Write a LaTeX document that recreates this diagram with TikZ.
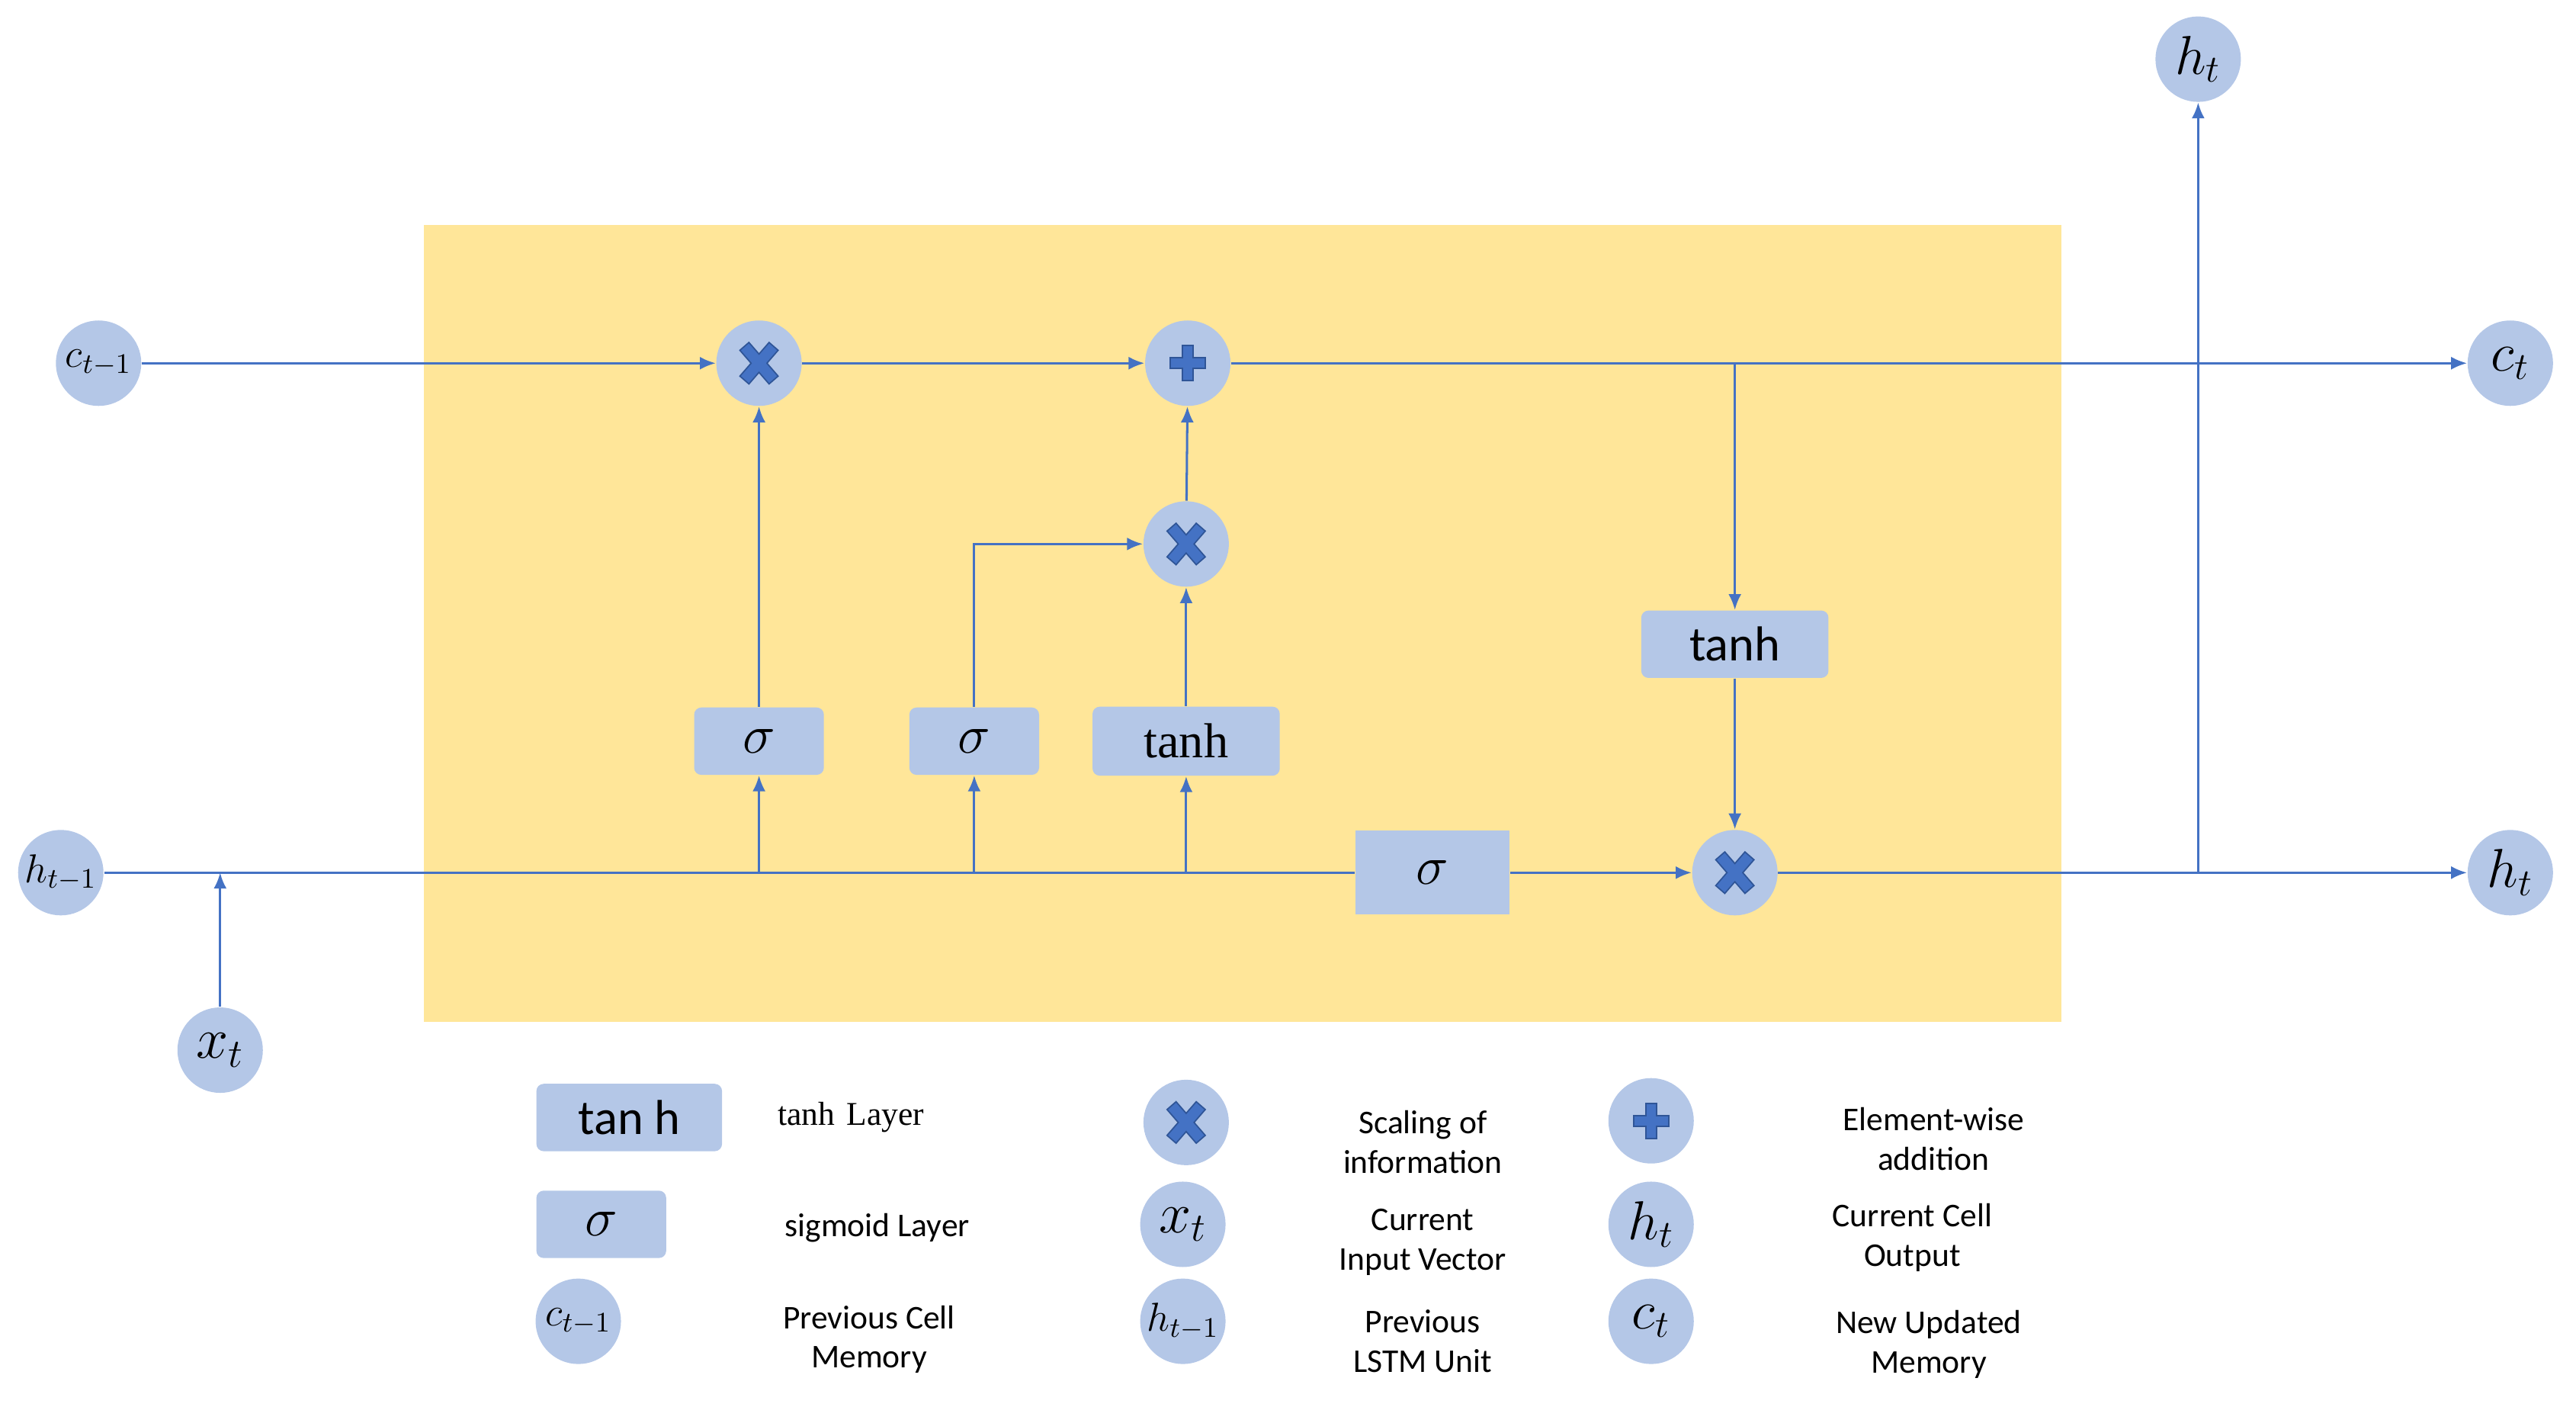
\RequirePackage{fix-cm}
\documentclass[tikz,border=0pt]{standalone}
\usepackage{fontspec}
\usetikzlibrary{arrows.meta}
\newfontfamily\calib{Carlito}
\newfontfamily\timesf{Liberation Serif}
\definecolor{cellyellow}{HTML}{FFE699}
\definecolor{nodeblue}{HTML}{B4C7E7}
\definecolor{lineblue}{HTML}{4472C4}
\definecolor{crossblue}{HTML}{4472C4}
\definecolor{crossdark}{HTML}{2F5597}
\tikzset{
  arr/.style={draw=lineblue, line width=0.8pt, -{Latex[length=5.5pt,width=4.5pt]}},
  ln/.style={draw=lineblue, line width=0.8pt},
  circ/.style={circle, fill=nodeblue, minimum size=1.04cm, inner sep=0pt},
  layerbox/.style={rectangle, rounded corners=2.5pt, fill=nodeblue, inner sep=0pt},
  bigm/.style={font=\fontsize{19}{22}\selectfont},
  smallm/.style={font=\fontsize{14}{16}\selectfont},
  legtxt/.style={font=\calib\fontsize{11.5}{13.7}\selectfont, align=center, inner sep=0pt},
  multop/.style={circ, path picture={
    \draw[crossdark, line width=4.6pt, line cap=rect]
      ([shift={(-0.13cm,-0.15cm)}]path picture bounding box.center) -- ([shift={(0.13cm,0.15cm)}]path picture bounding box.center)
      ([shift={(-0.13cm,0.15cm)}]path picture bounding box.center) -- ([shift={(0.13cm,-0.15cm)}]path picture bounding box.center);
    \draw[crossblue, line width=3.6pt, line cap=rect]
      ([shift={(-0.13cm,-0.15cm)}]path picture bounding box.center) -- ([shift={(0.13cm,0.15cm)}]path picture bounding box.center)
      ([shift={(-0.13cm,0.15cm)}]path picture bounding box.center) -- ([shift={(0.13cm,-0.15cm)}]path picture bounding box.center);
  }},
  plusop/.style={circ, path picture={
    \draw[crossdark, line width=4.2pt, line cap=rect]
      ([shift={(-0.15cm,0cm)}]path picture bounding box.center) -- ([shift={(0.15cm,0cm)}]path picture bounding box.center)
      ([shift={(0cm,-0.15cm)}]path picture bounding box.center) -- ([shift={(0cm,0.15cm)}]path picture bounding box.center);
    \draw[crossblue, line width=3.2pt, line cap=rect]
      ([shift={(-0.15cm,0cm)}]path picture bounding box.center) -- ([shift={(0.15cm,0cm)}]path picture bounding box.center)
      ([shift={(0cm,-0.15cm)}]path picture bounding box.center) -- ([shift={(0cm,0.15cm)}]path picture bounding box.center);
  }},
}
\begin{document}
\begin{tikzpicture}[x=0.02cm,y=-0.02cm]
\useasboundingbox (0,0) rectangle (1568,856);
% cell background
\node[fill=cellyellow, minimum width=19.94cm, minimum height=9.7cm, inner sep=0pt] (cell) at (756.5,379.5) {};

% main nodes
\node[circ, smallm] (cprev) at (60,221) {$c_{t-1}$};
\node[circ, smallm] (hprev) at (37,531) {$h_{t-1}$};
\node[circ, font=\fontsize{20}{22}\selectfont] (xt) at (134,639) {$x_t$};
\node[multop] (m1) at (462,221) {};
\node[plusop] (plus) at (723,221) {};
\node[multop] (m2) at (722,331) {};
\node[layerbox, minimum width=1.58cm, minimum height=0.82cm, bigm] (s1) at (462,451) {$\sigma$};
\node[layerbox, minimum width=1.58cm, minimum height=0.82cm, bigm] (s2) at (593,451) {$\sigma$};
\node[layerbox, minimum width=2.28cm, minimum height=0.84cm, font=\timesf\fontsize{17}{20}\selectfont] (th1) at (722,451) {tanh};
\node[rectangle, fill=nodeblue, inner sep=0pt, minimum width=1.88cm, minimum height=1.02cm, bigm] (s3) at (872,531) {$\sigma$};
\node[layerbox, minimum width=2.28cm, minimum height=0.82cm, font=\calib\fontsize{17}{20}\selectfont] (th2) at (1056,392) {tanh};
\node[multop] (m3) at (1056,531) {};
\node[circ, bigm] (htop) at (1338,36) {$h_t$};
\node[circ, bigm] (cnext) at (1528,221) {$c_t$};
\node[circ, bigm] (hnext) at (1528,531) {$h_t$};

% connectors
\draw[arr] (cprev) -- (m1);
\draw[arr] (m1) -- (plus);
\draw[arr] (plus) -- (cnext);
\draw[arr] (th2.north |- plus.center) -- (th2);
\draw[arr] (s1) -- (m1);
\draw[ln] (hprev) -- (s3);
\draw[arr] (s3) -- (m3);
\draw[arr] (m3) -- (hnext);
\draw[arr] (xt) -- (xt |- hprev.center);
\draw[arr] (s1 |- hprev.center) -- (s1);
\draw[arr] (s2 |- hprev.center) -- (s2);
\draw[arr] (th1 |- hprev.center) -- (th1);
\draw[arr] (s2.north) |- (m2);
\draw[arr] (th1) -- (m2);
\draw[arr] (m2) -- (plus);
\draw[arr] (th2) -- (m3);
\draw[arr] (htop |- hnext.center) -- (htop);

% legend
\node[layerbox, minimum width=2.26cm, minimum height=0.82cm, font=\calib\fontsize{17}{20}\selectfont] (lgtanh) at (383,680) {tan h};
\node[layerbox, minimum width=1.58cm, minimum height=0.82cm, bigm] (lgsig) at (366,745) {$\sigma$};
\node[circ, smallm] (lgc) at (352,804) {$c_{t-1}$};
\node[font=\timesf\fontsize{11.5}{13.7}\selectfont, inner sep=0pt] (lgtanhtxt) at (518,680) {tanh\hspace{0.35em}Layer};
\node[legtxt] (lgsigtxt) at (534,747) {sigmoid Layer};
\node[legtxt] (lgctxt) at (529,815) {Previous Cell\\Memory};
\node[multop] (lgm) at (722,683) {};
\node[legtxt] (lgmtxt) at (866,695) {Scaling of\\information};
\node[circ, font=\fontsize{20}{22}\selectfont] (lgx) at (720,745) {$x_t$};
\node[legtxt] (lgxtxt) at (866,756) {Current\\Input Vector};
\node[circ, smallm] (lgh1) at (720,804) {$h_{t-1}$};
\node[legtxt] (lgh1txt) at (866,816) {Previous\\LSTM Unit};
\node[plusop] (lgp) at (1005,682) {};
\node[legtxt] (lgptxt) at (1177,693) {Element-wise\\addition};
\node[circ, bigm] (lgh) at (1005,745) {$h_t$};
\node[legtxt] (lghtxt) at (1164,753) {Current Cell\\Output};
\node[circ, bigm] (lgct) at (1005,804) {$c_t$};
\node[legtxt] (lgcttxt) at (1174,818) {New Updated\\Memory};
\end{tikzpicture}
\end{document}
